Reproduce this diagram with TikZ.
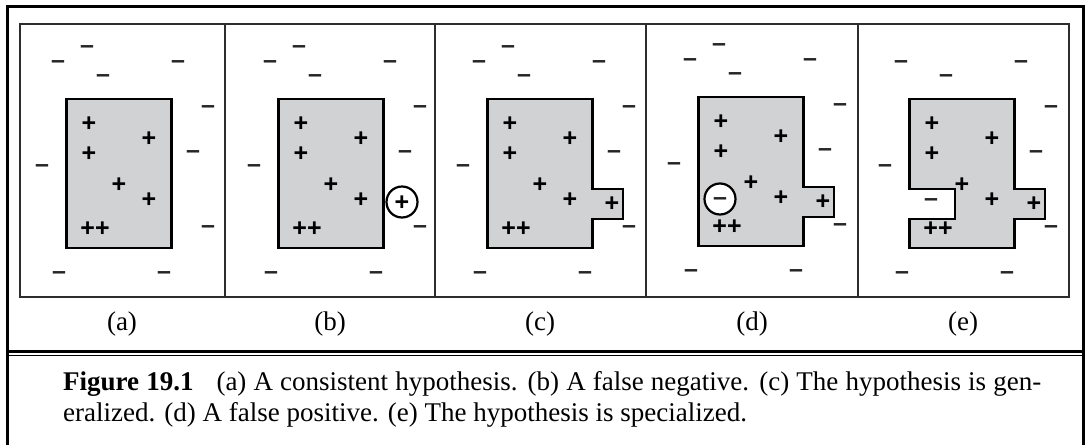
\documentclass[tikz,border=0pt]{standalone}
\usepackage{fontspec}
\setmainfont{Liberation Serif}
\newfontfamily\signfont{Liberation Sans}
\definecolor{hypgray}{RGB}{209,210,212}
\definecolor{framegray}{RGB}{45,45,45}

% spots of the signs, relative to a panel origin (pixel-like units)
\def\negspots{74/47,45/62,90/76,165/62,195/107,180/152,29/166,195/227,46/273,151/273}
\def\negtrim{45/62,90/76,165/62,195/107,180/152,29/166,195/227,46/273,151/273}
\def\posspots{76/123,136/138,76/153,106/184,136/199}
\def\posbump{76/123,136/138,76/153,106/184,136/199,178/203}

\tikzset{
  possign/.style={font=\signfont\bfseries\fontsize{25}{25}\selectfont, text=black,
    inner sep=0pt, anchor=base, yshift=-8.3pt},
  negsign/.style={font=\signfont\bfseries\fontsize{25}{25}\selectfont, text=black!85,
    inner sep=0pt, anchor=base, yshift=-6.5pt},
  hyp/.style={draw=black, fill=hypgray, line width=2.3pt, line join=miter},
  ringmark/.style={circle, draw=black, fill=white, line width=2.2pt,
    minimum size=31pt, inner sep=0pt},
  panelline/.style={draw=framegray, line width=2pt},
  panellabel/.style={font=\fontsize{27}{32}\selectfont, inner sep=0pt, anchor=base},
  captext/.style={font=\fontsize{27}{32}\selectfont, inner sep=0pt, anchor=base west},
}

% one panel's scattered examples: #1 tag, #2 negative spots, #3 positive spots
\newcommand{\signset}[3]{%
  \foreach \sx/\sy [count=\i] in #2{
    \node[negsign] (#1-m\i) at (\sx,\sy) {–};}
  \foreach \sx/\sy [count=\i] in #3{
    \node[possign] (#1-p\i) at (\sx,\sy) {+};}
}

\begin{document}
\begin{tikzpicture}[x=1pt, y=-1pt]
  \useasboundingbox (0,0) rectangle (1088,445);

  % ── FRAMES ────────────────────────────────────────────────
  \draw[line width=3pt] (7,445) -- (7,6) -- (1083,6) -- (1083,445);
  \draw[panelline] (20,24) rectangle (1069,297);
  \foreach \px in {225,435,646,858}
    \draw[panelline] (\px,24) -- (\px,297);

  % ── (a) consistent hypothesis ─────────────────────────────
  \begin{scope}[shift={(13,0)}]
    \draw[hyp] (53.5,99) rectangle (158.5,248);
    \signset{a}{\negspots}{\posspots}
    \node[possign] (a-pp) at (82,228) {++};
  \end{scope}

  % ── (b) false negative ────────────────────────────────────
  \begin{scope}[shift={(225,0)}]
    \draw[hyp] (53.5,99) rectangle (158.5,248);
    \signset{b}{\negspots}{\posspots}
    \node[possign] (b-pp) at (82,228) {++};
    \node[ringmark] (b-ring) at (177,202) {};
    \node[possign] (b-fn) at (b-ring.center) {+};
  \end{scope}

  % ── (c) generalized ───────────────────────────────────────
  \begin{scope}[shift={(434,0)}]
    \draw[hyp] (53.5,99) -- (158.5,99) -- (158.5,189) -- (189,189)
      -- (189,219) -- (158.5,219) -- (158.5,248) -- (53.5,248) -- cycle;
    \signset{c}{\negspots}{\posbump}
    \node[possign] (c-pp) at (82,228) {++};
  \end{scope}

  % ── (d) false positive ────────────────────────────────────
  \begin{scope}[shift={(645,-2)}]
    \draw[hyp] (53.5,99) -- (158.5,99) -- (158.5,189) -- (189,189)
      -- (189,219) -- (158.5,219) -- (158.5,248) -- (53.5,248) -- cycle;
    \signset{d}{\negspots}{\posbump}
    \node[possign] (d-pp) at (82,228) {++};
    \node[ringmark] (d-ring) at (75,201) {};
    \node[negsign] (d-fp) at (d-ring.center) {–};
  \end{scope}

  % ── (e) specialized ───────────────────────────────────────
  \begin{scope}[shift={(856,0)}]
    \draw[hyp] (53.5,99) -- (158.5,99) -- (158.5,189) -- (189,189)
      -- (189,219) -- (158.5,219) -- (158.5,248) -- (53.5,248)
      -- (53.5,219) -- (99,219) -- (99,189) -- (53.5,189) -- cycle;
    \signset{e}{\negtrim}{\posbump}
    \node[negsign] (e-m10) at (75,200) {–};
    \node[possign] (e-pp) at (82,228) {++};
  \end{scope}

  % ── LABELS ────────────────────────────────────────────────
  \foreach \lab/\lx in {a/122,b/330,c/540,d/752,e/963}
    \node[panellabel] (lab-\lab) at (\lx,330) {(\lab)};

  % ── CAPTION ───────────────────────────────────────────────
  \draw[line width=3pt] (7,351) -- (1083,351);
  \draw[line width=1.5pt] (7,355.5) -- (1083,355.5);
  \node[captext] (cap1) at (63,390)
    {\makebox[978pt][s]{\textbf{Figure 19.1}\hspace{0.85em}(a) A consistent hypothesis. (b) A false negative. (c) The hypothesis is gen-}};
  \node[captext] (cap2) at (63,421)
    {eralized. (d) A false positive. (e) The hypothesis is specialized.};
\end{tikzpicture}
\end{document}
